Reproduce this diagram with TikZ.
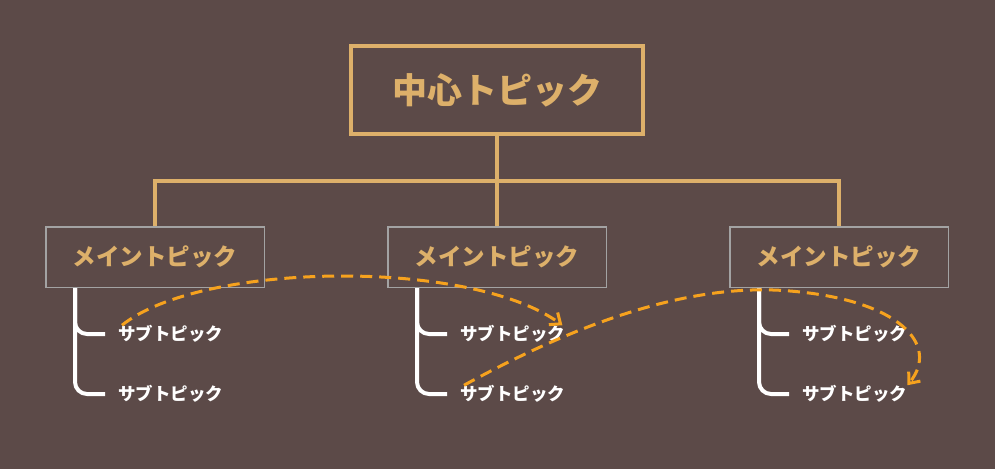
\documentclass[tikz,border=0pt]{standalone}
\usepackage{fontspec}
\newfontfamily\jpfont{Noto Sans CJK JP}
\usetikzlibrary{arrows.meta}
\definecolor{bgbrown}{HTML}{5C4A48}
\definecolor{topicgold}{HTML}{DDB06A}
\definecolor{boxgray}{HTML}{A3A3A3}
\definecolor{linkorange}{HTML}{F6A21E}
\begin{document}
\begin{tikzpicture}[x=1pt,y=-1pt,
    central/.style={draw=topicgold,line width=4pt,minimum width=292pt,minimum height=88pt,
        text=topicgold,font=\jpfont\bfseries\fontsize{35}{40}\selectfont},
    maintopic/.style={draw=boxgray,line width=1.5pt,minimum width=218.5pt,minimum height=60.5pt,
        text=topicgold,font=\jpfont\bfseries\fontsize{23.5}{28}\selectfont},
    subtopic/.style={anchor=west,inner sep=0pt,text=white,font=\jpfont\bfseries\fontsize{17.5}{20}\selectfont},
    tree/.style={topicgold,line width=4pt},
    branch/.style={white,line width=4pt,rounded corners=12pt,shorten >=13pt},
    link/.style={linkorange,line width=3pt,dash pattern=on 12pt off 7pt,
        -{Straight Barb[length=9pt,width=15pt]}}]
    \fill[bgbrown] (0,0) rectangle (995,469);
    \node[central] (c) at (497,90) {中心トピック};
    \coordinate (hub) at (497,181);
    \foreach \i/\x in {1/155,2/497,3/839}{
        \node[maintopic] (m\i) at (\x,257) {メイントピック};
        \node[subtopic] (s\i1) at (\x-37,334) {サブトピック};
        \node[subtopic] (s\i2) at (\x-37,394) {サブトピック};
        \draw[branch] ([xshift=30pt]m\i.south west) |- (s\i1.west);
        \draw[branch] ([xshift=30pt]m\i.south west) |- (s\i2.west);
    }
    \draw[tree] (c.south) -- (hub) -- (m2.north);
    \draw[tree] (m1.north) |- (hub) -| (m3.north);
    % links between subtopics
    \draw[link] ([xshift=4pt]s11.north west) .. controls (200,262) and (470,258) .. ([xshift=-3pt]s21.north east);
    \draw[link] ([xshift=4pt]s22.north west) .. controls (620,300) and (720,285) .. (790,291)
        .. controls (900,300) and (940,345) .. (s32.north east);
\end{tikzpicture}
\end{document}
